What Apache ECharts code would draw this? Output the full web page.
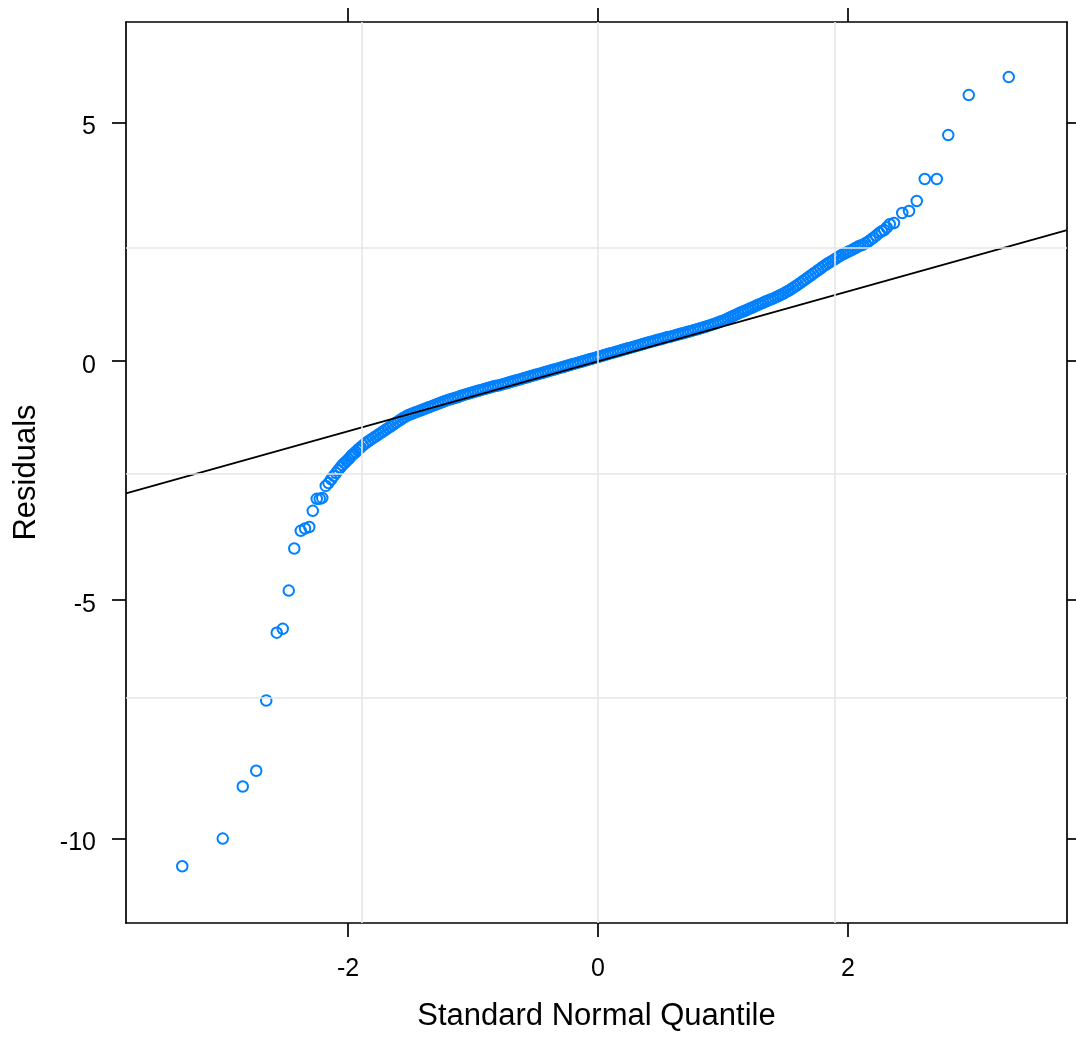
<!DOCTYPE html>
<html>
<head>
<meta charset="utf-8">
<script src="https://cdn.jsdelivr.net/npm/echarts@6/dist/echarts.min.js"></script>
<style>
html,body{margin:0;padding:0;background:#fff;}
#chart{width:1076px;height:1042px;}
</style>
</head>
<body>
<div id="chart"></div>
<script>
// Tick positions
const xTicks = [-2, 0, 2];
const yTicks = [-10, -5, 0, 5];
// Reference grid lines (as drawn in the panel)
const gridX = [-1.89, 0, 1.89];
const gridY = [2.376, -2.346, -7.04];
// Reference (qq) line end points
const refLineX = [-3.776, 3.752];
const refLineY = [-2.764, 2.746];

// Points: [standard normal quantile, residual]
const lowerTail = [
[-3.326,-10.57],[-3.002,-9.99],[-2.842,-8.90],[-2.734,-8.57],[-2.654,-7.10],[-2.570,-5.68],
[-2.522,-5.60],[-2.474,-4.80],[-2.430,-3.92],[-2.378,-3.55],[-2.344,-3.50],[-2.310,-3.47],
[-2.282,-3.13],[-2.250,-2.88],[-2.226,-2.88],[-2.206,-2.86],[-2.178,-2.61],[-2.156,-2.55],
[-2.134,-2.47],[-2.114,-2.40],[-2.096,-2.34],[-2.078,-2.28],[-2.060,-2.22],[-2.044,-2.17],
[-2.028,-2.13],[-2.012,-2.09],[-1.996,-2.05],[-1.980,-2.00],[-1.966,-1.96],[-1.952,-1.93],
[-1.938,-1.90],[-1.924,-1.86],[-1.910,-1.83]
];
const bandPoints = [
[-1.90,-1.805],[-1.88,-1.76],[-1.86,-1.72],[-1.84,-1.68],[-1.82,-1.645],[-1.80,-1.61],
[-1.78,-1.575],[-1.76,-1.54],[-1.74,-1.505],[-1.72,-1.47],[-1.70,-1.435],[-1.68,-1.40],
[-1.66,-1.365],[-1.64,-1.33],[-1.62,-1.295],[-1.60,-1.26],[-1.58,-1.225],[-1.56,-1.19],
[-1.54,-1.16],[-1.52,-1.13],[-1.50,-1.11],[-1.48,-1.09],[-1.46,-1.07],[-1.44,-1.05],
[-1.42,-1.03],[-1.40,-1.01],[-1.38,-0.99],[-1.36,-0.97],[-1.34,-0.95],[-1.32,-0.93],
[-1.30,-0.91],[-1.28,-0.89],[-1.26,-0.87],[-1.24,-0.85],[-1.22,-0.83],[-1.20,-0.81],
[-1.18,-0.795],[-1.16,-0.78],[-1.14,-0.765],[-1.12,-0.75],[-1.10,-0.73],[-1.08,-0.71],
[-1.06,-0.695],[-1.04,-0.68],[-1.02,-0.665],[-1.00,-0.65],[-0.98,-0.635],[-0.96,-0.62],
[-0.94,-0.605],[-0.92,-0.59],[-0.90,-0.575],[-0.88,-0.56],[-0.86,-0.545],[-0.84,-0.53],
[-0.82,-0.52],[-0.80,-0.51],[-0.78,-0.495],[-0.76,-0.48],[-0.74,-0.465],[-0.72,-0.45],
[-0.70,-0.435],[-0.68,-0.42],[-0.66,-0.405],[-0.64,-0.39],[-0.62,-0.375],[-0.60,-0.36],
[-0.58,-0.345],[-0.56,-0.33],[-0.54,-0.315],[-0.52,-0.30],[-0.50,-0.285],[-0.48,-0.27],
[-0.46,-0.255],[-0.44,-0.24],[-0.42,-0.225],[-0.40,-0.21],[-0.38,-0.195],[-0.36,-0.18],
[-0.34,-0.165],[-0.32,-0.15],[-0.30,-0.135],[-0.28,-0.12],[-0.26,-0.105],[-0.24,-0.09],
[-0.22,-0.075],[-0.20,-0.06],[-0.18,-0.045],[-0.16,-0.03],[-0.14,-0.015],[-0.12,0.00],
[-0.10,0.015],[-0.08,0.03],[-0.06,0.045],[-0.04,0.06],[-0.02,0.075],[0.00,0.09],
[0.02,0.105],[0.04,0.12],[0.06,0.135],[0.08,0.15],[0.10,0.165],[0.12,0.18],
[0.14,0.195],[0.16,0.21],[0.18,0.225],[0.20,0.24],[0.22,0.255],[0.24,0.27],
[0.26,0.285],[0.28,0.30],[0.30,0.315],[0.32,0.33],[0.34,0.345],[0.36,0.36],
[0.38,0.375],[0.40,0.39],[0.42,0.405],[0.44,0.42],[0.46,0.435],[0.48,0.45],
[0.50,0.46],[0.52,0.475],[0.54,0.49],[0.56,0.505],[0.58,0.515],[0.60,0.53],
[0.62,0.545],[0.64,0.56],[0.66,0.575],[0.68,0.585],[0.70,0.60],[0.72,0.615],
[0.74,0.63],[0.76,0.645],[0.78,0.66],[0.80,0.675],[0.82,0.69],[0.84,0.705],
[0.86,0.72],[0.88,0.74],[0.90,0.755],[0.92,0.775],[0.94,0.79],[0.96,0.81],
[0.98,0.83],[1.00,0.85],[1.02,0.87],[1.04,0.895],[1.06,0.92],[1.08,0.945],
[1.10,0.97],[1.12,0.995],[1.14,1.02],[1.16,1.04],[1.18,1.06],[1.20,1.085],
[1.22,1.11],[1.24,1.13],[1.26,1.155],[1.28,1.18],[1.30,1.20],[1.32,1.225],
[1.34,1.25],[1.36,1.27],[1.38,1.29],[1.40,1.31],[1.42,1.335],[1.44,1.36],
[1.46,1.385],[1.48,1.41],[1.50,1.44],[1.52,1.47],[1.54,1.50],[1.56,1.535],
[1.58,1.57],[1.60,1.605],[1.62,1.64],[1.64,1.68],[1.66,1.715],[1.68,1.755],
[1.70,1.79],[1.72,1.83],[1.74,1.865],[1.76,1.905],[1.78,1.94],[1.80,1.98],
[1.82,2.015],[1.84,2.05],[1.86,2.08],[1.88,2.11],[1.90,2.145]
];
const upperTail = [
[1.92,2.18],[1.94,2.21],[1.96,2.24],[1.98,2.265],[2.00,2.29],[2.02,2.315],[2.04,2.34],
[2.06,2.37],[2.08,2.40],[2.10,2.42],[2.12,2.44],[2.14,2.47],[2.16,2.50],[2.18,2.54],
[2.20,2.58],[2.225,2.63],[2.25,2.685],[2.27,2.72],[2.29,2.745],[2.31,2.80],[2.334,2.867],
[2.368,2.894],[2.434,3.103],[2.488,3.145],[2.550,3.354],[2.614,3.814],[2.710,3.814],
[2.802,4.734],[2.966,5.571],[3.286,5.947]
];

const FONT = '"Liberation Sans", Arial, Helvetica, sans-serif';
const X_MIN = -3.776, X_MAX = 3.752, Y_MIN = -11.757, Y_MAX = 7.10;

const chart = echarts.init(document.getElementById('chart'), null, {renderer: 'canvas'});

function axisCommon(showLabel, ticks, extra) {
  return Object.assign({
    type: 'value',
    axisLine: {show: true, onZero: false, lineStyle: {color: '#000', width: 1.7}},
    axisTick: {show: true, inside: false, length: 14, customValues: ticks, lineStyle: {color: '#000', width: 1.7}},
    axisLabel: {show: showLabel, customValues: ticks, color: '#000', fontSize: 25, fontFamily: FONT},
    splitLine: {show: false},
    nameTextStyle: {color: '#000', fontSize: 31, fontFamily: FONT}
  }, extra);
}

const allPoints = lowerTail.concat(bandPoints, upperTail);

chart.setOption({
  animation: false,
  backgroundColor: '#fff',
  grid: {left: 126, right: 9, top: 22, bottom: 119, containLabel: false},
  xAxis: [
    axisCommon(true, xTicks, {position: 'bottom', min: X_MIN, max: X_MAX,
      axisLabel: {show: true, customValues: xTicks, color: '#000', fontSize: 25, fontFamily: FONT, margin: 34},
      name: 'Standard Normal Quantile', nameLocation: 'middle', nameGap: 78}),
    axisCommon(false, xTicks, {position: 'top', min: X_MIN, max: X_MAX})
  ],
  yAxis: [
    axisCommon(true, yTicks, {position: 'left', min: Y_MIN, max: Y_MAX,
      axisLabel: {show: true, customValues: yTicks, margin: 30,
        formatter: v => '{a|' + v + '}',
        rich: {a: {color: '#000', fontSize: 25, fontFamily: FONT, padding: [9, 0, 0, 0]}}},
      name: 'Residuals', nameLocation: 'middle', nameGap: 84}),
    axisCommon(false, yTicks, {position: 'right', min: Y_MIN, max: Y_MAX})
  ],
  series: [
    {
      type: 'scatter',
      data: [],
      z: 1,
      silent: true,
      markLine: {
        silent: true,
        symbol: ['none', 'none'],
        label: {show: false},
        animation: false,
        lineStyle: {color: '#e6e6e6', width: 1.6, type: 'solid'},
        data: gridX.map(v => ({xAxis: v})).concat(gridY.map(v => ({yAxis: v})))
      }
    },
    {
      type: 'scatter',
      z: 2,
      symbol: 'circle',
      symbolSize: 10.5,
      itemStyle: {color: 'rgba(0,0,0,0)', borderColor: '#0080ff', borderWidth: 2, opacity: 1},
      data: allPoints
    },
    {
      type: 'line',
      z: 3,
      showSymbol: false,
      symbol: 'none',
      lineStyle: {color: '#000', width: 1.8},
      data: refLineX.map((x, i) => [x, refLineY[i]])
    }
  ]
});
</script>
</body>
</html>
